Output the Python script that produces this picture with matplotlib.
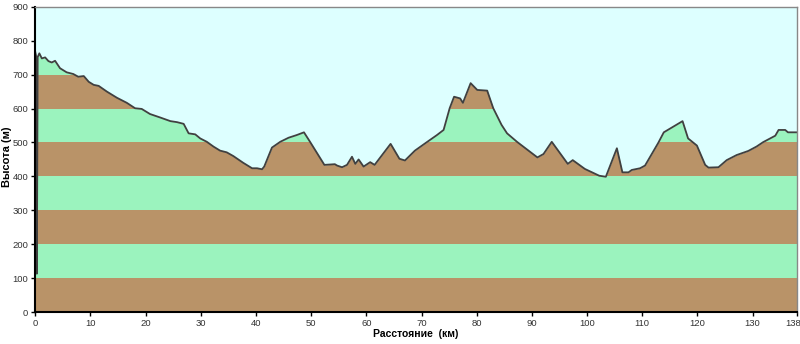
import numpy as np
import matplotlib
matplotlib.use("Agg")
import matplotlib.pyplot as plt
from matplotlib.transforms import ScaledTranslation

# elevation profile: distance (km) and height (m)
dist_km = [0, 0.2, 0.3, 0.45, 0.75, 1.2, 1.8, 2.4, 3.0, 3.6, 4.5, 5.7, 6.9, 7.8, 8.8,
           9.7, 10.6, 11.5, 13.0, 14.8, 16.6, 18.1, 19.3, 20.8, 22.6, 24.5, 25.7,
           26.9, 27.8, 29.0, 29.9, 31.1, 32.3, 33.5, 34.7, 35.9, 37.7, 39.3, 40.2,
           41.1, 41.5, 42.9, 44.4, 45.9, 47.4, 48.7, 49.8, 52.4, 53.4, 54.3, 54.7,
           55.6, 56.5, 57.4, 58.0, 58.6, 59.5, 60.7, 61.5, 64.4, 66.0, 67.0, 68.8,
           70.7, 72.8, 74.0, 75.1, 75.9, 77.0, 77.5, 78.9, 80.1, 81.9, 83.0, 84.5,
           85.5, 87.3, 91.0, 92.1, 93.6, 96.5, 97.4, 99.6, 102.2, 103.4, 105.4,
           106.4, 107.5, 108.1, 109.6, 110.5, 112.9, 113.9, 117.3, 118.3, 119.9,
           121.4, 122.0, 123.8, 125.3, 127.1, 129.2, 130.7, 131.9, 134.1, 134.7,
           135.9, 136.4, 138.0]
height_m = [768, 752, 113, 752, 763, 748, 751, 740, 736, 741, 719, 707, 702, 694, 696,
            679, 670, 667, 650, 632, 617, 601, 599, 584, 574, 563, 560,
            555, 527, 524, 512, 502, 488, 476, 471, 460, 440, 424, 424,
            421, 429, 485, 502, 514, 522, 530, 502, 434, 435, 436, 432,
            427, 434, 458, 437, 450, 429, 442, 434, 496, 452, 447, 476,
            498, 522, 537, 601, 635, 630, 617, 675, 655, 653, 601, 552,
            527, 502, 456, 466, 502, 437, 448, 422, 402, 399, 483,
            412, 412, 419, 424, 432, 499, 530, 563, 512, 491,
            434, 426, 427, 448, 463, 475, 488, 501, 520, 537,
            537, 530, 530]

x_ticks = [0, 10, 20, 30, 40, 50, 60, 70, 80, 90, 100, 110, 120, 130, 138]
y_ticks = list(range(0, 1000, 100))

brown = "#B99368"
green = "#9BF3BE"
sky = "#DDFFFF"

plt.rcParams["font.family"] = ["Liberation Sans", "DejaVu Sans"]

fig = plt.figure(figsize=(8, 3.44), dpi=100)
ax = fig.add_axes([0.044, 0.093, 0.952, 0.887])

# alternating 100 m bands under the profile
for lo in range(0, 900, 100):
    ax.axhspan(lo, lo + 100, color=brown if (lo // 100) % 2 == 0 else green, lw=0, zorder=0)
ax.fill_between(dist_km, height_m, 900, color=sky, lw=0, zorder=1)
ax.plot(dist_km, height_m, color="#404040", lw=1.3, zorder=2)

ax.set_xlim(0, 138)
ax.set_ylim(0, 900)
ax.set_xticks(x_ticks)
ax.set_yticks(y_ticks)
ax.tick_params(labelsize=6.8, labelcolor="#333333", color="black", length=3, width=1, pad=2)

# nudge the end label left so it stays mostly inside the figure
last = ax.get_xticklabels()[-1]
last.set_transform(last.get_transform() + ScaledTranslation(-0.04, 0, fig.dpi_scale_trans))

for s in ("left", "bottom"):
    ax.spines[s].set_color("black")
    ax.spines[s].set_linewidth(1.5)
for s in ("top", "right"):
    ax.spines[s].set_color("#888888")
    ax.spines[s].set_linewidth(1.0)

ax.set_ylabel("Высота (м)", fontsize=8, fontweight="bold")
ax.yaxis.set_label_coords(-0.03, 0.51)
ax.set_xlabel("Расстояние  (км)", fontsize=7.5, fontweight="bold", labelpad=1)

fig.savefig("out.png", dpi=100)
